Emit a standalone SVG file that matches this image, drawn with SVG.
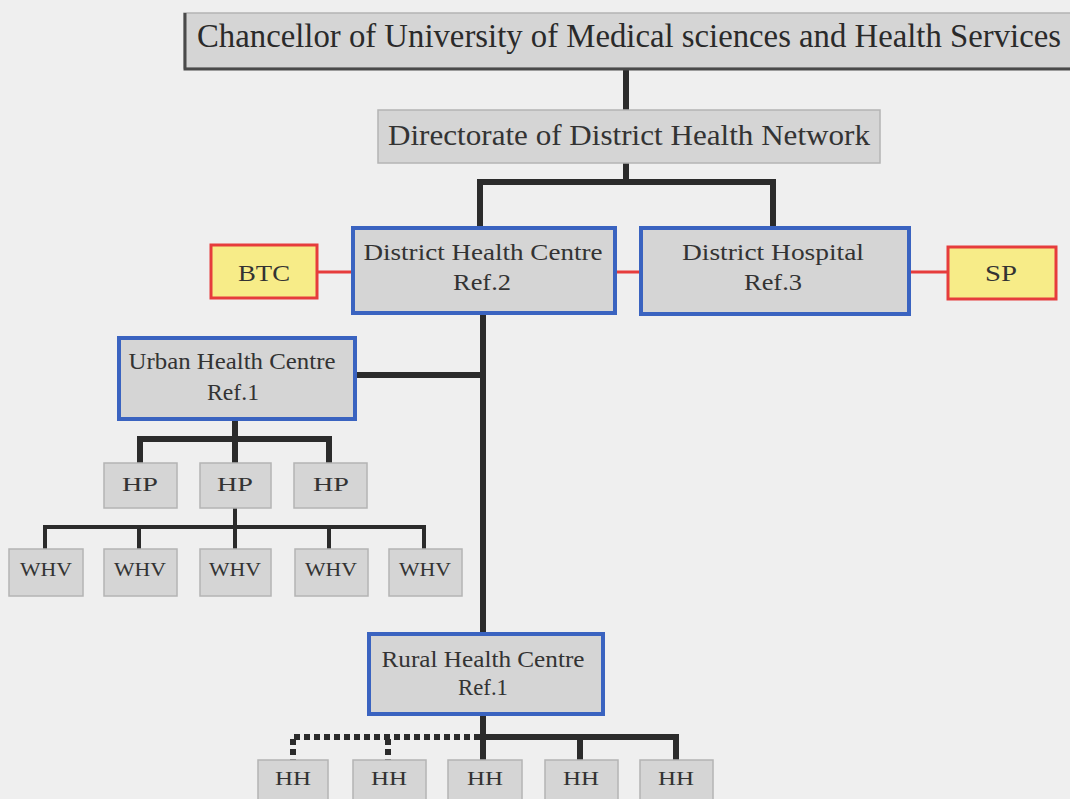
<svg xmlns="http://www.w3.org/2000/svg" width="1070" height="799" viewBox="0 0 1070 799">
  <style>
    .box { fill: #d5d5d5; stroke: #b4b4b4; stroke-width: 1.5; }
    .ref { fill: #d5d5d5; stroke: #3a63c0; stroke-width: 4; }
    .aux { fill: #f7ec88; stroke: #e63c3c; stroke-width: 3; }
    text { font-family: "Liberation Serif", "Times New Roman", serif; fill: #333333; text-anchor: middle; }
    .t1 { font-size: 33px; fill: #2a2a2a; }
    .t2 { font-size: 29px; }
    .t3 { font-size: 23px; }
    .t4 { font-size: 19px; }
    .c-main { stroke: #2b2b2b; stroke-width: 6; fill: none; }
    .c-thin { stroke: #2b2b2b; stroke-width: 4; fill: none; }
    .c-dash { stroke: #2b2b2b; stroke-width: 6; fill: none; stroke-dasharray: 6 4; }
    .c-red { stroke: #e63c3c; stroke-width: 3; fill: none; }
  </style>

  <rect x="0" y="0" width="1070" height="799" fill="#efefef"/>

  <!-- connectors -->
  <g id="connectors">
    <path class="c-main" d="M626 68 V110"/>
    <path class="c-main" d="M626 163 V182 M480 182 H773 M480 179 V228 M773 179 V228"/>
    <path class="c-red" d="M317 272 H352 M615 272 H641 M909 272 H948"/>
    <path class="c-main" d="M483 313 V634 M355 375 H486"/>
    <path class="c-main" d="M235 419 V463 M140 439 H329 M140 436 V463 M329 436 V463"/>
    <path class="c-thin" d="M235 508 V549 M45 527 H424 M45 525 V549 M139 525 V549 M329 525 V549 M424 525 V549"/>
    <path class="c-main" d="M483 714 V760 M480 737 H677 M580 734 V760 M676 734 V760"/>
    <path class="c-dash" d="M480 737 H290 M293 739 V760 M388 739 V760"/>
  </g>

  <!-- top level -->
  <g id="chancellor">
    <rect class="box" x="184" y="13" width="890" height="55"/>
    <path d="M185 13 V69 H1070" stroke="#4a4a4a" stroke-width="3" fill="none"/>
    <text class="t1" x="629" y="47" textLength="864" lengthAdjust="spacingAndGlyphs">Chancellor of University of Medical sciences and Health Services</text>
  </g>

  <g id="directorate">
    <rect class="box" x="378" y="110" width="502" height="53"/>
    <text class="t2" x="629" y="145" textLength="482" lengthAdjust="spacingAndGlyphs">Directorate of District Health Network</text>
  </g>

  <g id="btc">
    <rect class="aux" x="211" y="245" width="106" height="53"/>
    <text class="t3" x="264" y="281" textLength="52" lengthAdjust="spacingAndGlyphs">BTC</text>
  </g>

  <g id="district-health-centre">
    <rect class="ref" x="353" y="228" width="262" height="85"/>
    <text class="t3" x="483" y="260" textLength="239" lengthAdjust="spacingAndGlyphs">District Health Centre</text>
    <text class="t3" x="482" y="290" textLength="58" lengthAdjust="spacingAndGlyphs">Ref.2</text>
  </g>

  <g id="district-hospital">
    <rect class="ref" x="641" y="228" width="268" height="86"/>
    <text class="t3" x="773" y="260" textLength="182" lengthAdjust="spacingAndGlyphs">District Hospital</text>
    <text class="t3" x="773" y="290" textLength="58" lengthAdjust="spacingAndGlyphs">Ref.3</text>
  </g>

  <g id="sp">
    <rect class="aux" x="948" y="247" width="108" height="52"/>
    <text class="t3" x="1001" y="281" textLength="32" lengthAdjust="spacingAndGlyphs">SP</text>
  </g>

  <g id="urban-health-centre">
    <rect class="ref" x="119" y="338" width="236" height="81"/>
    <text class="t3" x="232" y="369" textLength="207" lengthAdjust="spacingAndGlyphs">Urban Health Centre</text>
    <text class="t3" x="233" y="400" textLength="52" lengthAdjust="spacingAndGlyphs">Ref.1</text>
  </g>

  <g id="hp-1"><rect class="box" x="104" y="463" width="73" height="45"/><text class="t4" x="140" y="491" textLength="36" lengthAdjust="spacingAndGlyphs">HP</text></g>
  <g id="hp-2"><rect class="box" x="200" y="463" width="71" height="45"/><text class="t4" x="235" y="491" textLength="36" lengthAdjust="spacingAndGlyphs">HP</text></g>
  <g id="hp-3"><rect class="box" x="294" y="463" width="73" height="45"/><text class="t4" x="331" y="491" textLength="36" lengthAdjust="spacingAndGlyphs">HP</text></g>

  <g id="whv-1"><rect class="box" x="9" y="549" width="74" height="47"/><text class="t4" x="46" y="576" textLength="52" lengthAdjust="spacingAndGlyphs">WHV</text></g>
  <g id="whv-2"><rect class="box" x="104" y="549" width="73" height="47"/><text class="t4" x="140" y="576" textLength="52" lengthAdjust="spacingAndGlyphs">WHV</text></g>
  <g id="whv-3"><rect class="box" x="200" y="549" width="71" height="47"/><text class="t4" x="235" y="576" textLength="52" lengthAdjust="spacingAndGlyphs">WHV</text></g>
  <g id="whv-4"><rect class="box" x="295" y="549" width="73" height="47"/><text class="t4" x="331" y="576" textLength="52" lengthAdjust="spacingAndGlyphs">WHV</text></g>
  <g id="whv-5"><rect class="box" x="389" y="549" width="73" height="47"/><text class="t4" x="425" y="576" textLength="52" lengthAdjust="spacingAndGlyphs">WHV</text></g>

  <g id="rural-health-centre">
    <rect class="ref" x="369" y="634" width="234" height="80"/>
    <text class="t3" x="483" y="667" textLength="203" lengthAdjust="spacingAndGlyphs">Rural Health Centre</text>
    <text class="t3" x="483" y="695" textLength="50" lengthAdjust="spacingAndGlyphs">Ref.1</text>
  </g>

  <g id="hh-1"><rect class="box" x="258" y="760" width="70" height="45"/><text class="t4" x="293" y="785" textLength="36" lengthAdjust="spacingAndGlyphs">HH</text></g>
  <g id="hh-2"><rect class="box" x="353" y="760" width="73" height="45"/><text class="t4" x="389" y="785" textLength="36" lengthAdjust="spacingAndGlyphs">HH</text></g>
  <g id="hh-3"><rect class="box" x="448" y="760" width="74" height="45"/><text class="t4" x="485" y="785" textLength="36" lengthAdjust="spacingAndGlyphs">HH</text></g>
  <g id="hh-4"><rect class="box" x="545" y="760" width="73" height="45"/><text class="t4" x="581" y="785" textLength="36" lengthAdjust="spacingAndGlyphs">HH</text></g>
  <g id="hh-5"><rect class="box" x="640" y="760" width="73" height="45"/><text class="t4" x="676" y="785" textLength="36" lengthAdjust="spacingAndGlyphs">HH</text></g>
</svg>
